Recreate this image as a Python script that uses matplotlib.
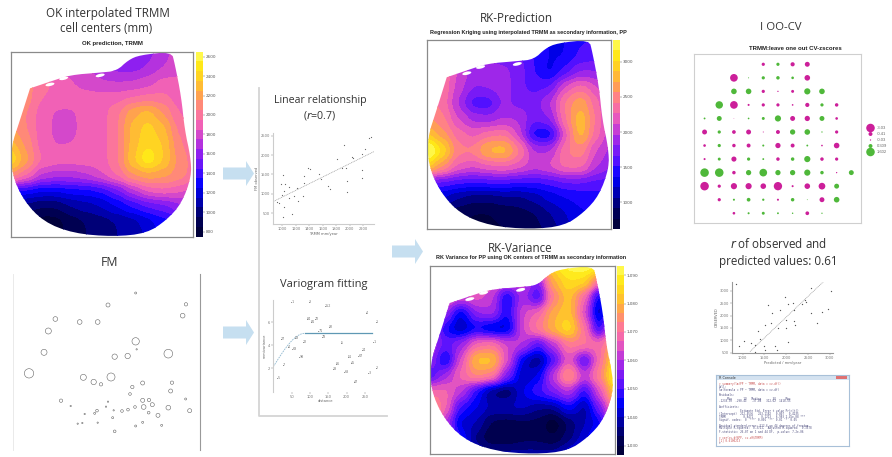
import numpy as np
import matplotlib
matplotlib.use("Agg")
import matplotlib.pyplot as plt
from matplotlib.colors import LinearSegmentedColormap
from matplotlib.patches import Polygon, Ellipse, FancyArrow, Rectangle

W, H = 892, 457
TITLE_FONT = "Open Sans"
SMALL_FONT = "Liberation Sans"

# ---------------- data ----------------
outline_u = [.106,.215,.325,.489,.580,.644,.708,.881,.898,.934,.953,.985,.99,.936,.854,.745,.562,.343,.179,.069,.005,.002,.051,.106]
outline_v = [.802,.838,.874,.887,.896,.955,.982,1.0,.937,.757,.577,.432,.324,.180,.090,.018,.0,.018,.081,.198,.342,.486,.631,.802]
holes_u = [.215, .29, .49]
holes_v = [.823, .856, .872]

grid_u = [0,.08,.17,.25,.33,.42,.5,.58,.67,.75,.83,.92,1]
grid_v = [1,.92,.83,.75,.67,.58,.5,.42,.33,.25,.17,.08,0]

ok_field = [
 [1900,1900,1850,1800,1750,1700,1650,1600,1550,1600,1700,1800,1800],
 [2000,2000,1950,1850,1800,1750,1700,1600,1600,1650,1750,1800,1800],
 [2100,2100,2000,1920,1850,1800,1750,1750,1750,1800,1880,1880,1850],
 [2150,2100,1950,1900,1900,1900,1900,1900,1950,1980,1980,1900,1850],
 [2150,2050,1900,1830,1830,1900,1900,2030,2220,2320,2150,1950,1900],
 [2180,2050,1900,1820,1820,1900,1900,2030,2280,2400,2280,2030,1900],
 [2300,2120,1900,1840,1850,1900,1900,2030,2280,2450,2350,2080,1950],
 [2480,2180,1950,1900,1900,1900,1900,2030,2320,2560,2350,2120,2000],
 [2150,1980,1750,1700,1700,1750,1850,1980,2150,2220,2180,2120,2000],
 [1350,1300,1250,1250,1300,1300,1350,1500,1700,1880,1930,1880,1800],
 [1050,1000, 950, 950,1050,1100,1150,1250,1350,1450,1500,1600,1700],
 [1000, 850, 800, 800, 900, 950,1000,1050,1100,1200,1300,1400,1450],
 [ 950, 850, 800, 800, 900, 950,1000,1050,1100,1150,1300,1350,1400]]

rk_field = [
 [2200,2100,1900,1800,1750,1700,1600,1500,1350,1350,1500,1500,1500],
 [2300,2200,2000,1850,1800,1750,1700,1500,1350,1350,1550,1600,1600],
 [2450,2400,2100,1900,1850,1850,1750,1500,1300,1550,1800,1800,1700],
 [2450,2400,2050,1800,1850,1900,1700,1600,1650,2150,2350,2150,1800],
 [2500,2350,1950,1550,1550,1850,1750,1750,1950,2450,2700,2350,1900],
 [2600,2450,2100,1900,1850,1950,1950,1700,1800,2400,2850,2400,1950],
 [2850,2600,2350,2200,2350,2400,2050,1350,1300,2150,2850,2350,1950],
 [3500,3000,2450,2450,2800,2850,2450,1950,1950,2400,2500,2100,1900],
 [3000,2600,2250,2150,2250,2300,2200,2050,2150,2350,2350,2000,1800],
 [1600,1600,1550,1500,1550,1550,1500,1500,1550,1650,1650,1600,1600],
 [1400,1200,1050, 950, 950,1000,1000,1100,1250,1350,1400,1450,1450],
 [1150, 950, 800, 750, 750, 800, 850, 900,1050,1200,1350,1400,1400],
 [1050, 900, 750, 750, 750, 750, 800, 850, 950,1150,1250,1350,1350]]

var_field = [
 [62,62,62,62,62,62,65,70,90,98,100,100,100],
 [65,65,62,62,60,55,55,40,78,90,88,60,70],
 [66,62,55,58,52,25,50,30,68,85,62,22,60],
 [62,45,22,45,50,28,55,62,78,85,55,15,62],
 [58,28,18,28,20,20,55,68,80,92,65,28,72],
 [52,38,45,62,65,55,52,35,50,68,68,62,80],
 [50,22,55,85,85,58,22,12,32,60,30,62,92],
 [32,48,62,72,68,42,18,25,52,78,52,68,98],
 [62,62,52,30,12, 8,25,35,42,52,30,55,88],
 [78,62,32,25,20,22,22,15,15,30,15,40,72],
 [82,48,22,20, 8, 6, 8, 8, 0,10,20,25,62],
 [78,55,30,12, 5, 5, 8, 8, 5,12,22,35,58],
 [75,60,38,22,18,18,18,18,18,25,38,48,58]]

ok_ticks = [800,1000,1200,1400,1600,1800,2000,2200,2400,2600]
rk_ticks = [1000,1500,2000,2500,3000]
var_ticks = [5,20,35,50,65,80,95]
var_labels = ["1,030","1,040","1,050","1,060","1,070","1,080","1,090"]

fm_x = [407,324,558,548,166,239,293,145,407,410,132,344,383,505,87,250,333,281,303,428,516,397,512,390,183,324,428,447,557,457,212,318,405,431,505,341,366,384,291,284,254,446,569,474,338,293,233,247,428,485,407,344]
fm_y = [129,165,163,197,207,216,216,243,274,298,307,320,318,311,370,382,381,396,403,399,398,411,423,432,452,455,451,450,447,464,468,470,471,471,473,481,483,479,482,490,492,488,482,496,503,518,521,519,517,526,528,544]
fm_r = [3,6,5,7,7,7,7,9,11,2,9,8,8,13,14,9,12,8,5,6,5,5,6,4,5,2,6,5,3,6,2,2,4,7,7,2,4,4,4,3,2,4,6,6,3,2,2,2,3,3,3,4]

lin_x = [926,956,990,1025,1015,980,1040,1099,1030,1099,1168,1015,1138,1212,1227,1301,1316,1326,1375,1410,1548,1573,1672,1706,1815,1919,1889,1944,2028,2052,1963,1958,2176,2225,2186,2181,2284,2314]
lin_y = [783,757,972,672,1487,1255,1255,1186,1083,886,946,414,483,1143,826,946,1272,1461,1675,1650,1512,1392,1204,1118,1890,2259,1658,1658,1941,1916,1332,1058,2027,2156,1615,1418,2430,2456]
lin_xticks = [1000,1200,1400,1600,1800,2000,2200]
lin_yticks = [500,1000,1500,2000,2500]

vg_d = [49,98,141,253,279,91,114,103,152,123,132,21,59,80,184,273,39,52,241,71,203,232,170,212,27,280,162,194,259,11,221]
vg_g = [7.81,7.78,7.43,6.85,6.06,6.32,6.32,6.0,5.56,5.21,4.69,4.54,4.63,4.31,4.16,4.31,3.87,3.66,3.58,2.96,2.96,3.08,2.35,2.47,2.29,2.0,1.94,1.62,1.53,1.15,.77]
vg_n = [1,3,152,4,1,84,72,81,92,71,78,27,53,12,5,1,4,63,14,98,51,67,86,45,7,2,33,68,3,5,47]
vg_nugget, vg_sill, vg_range = 2.12, 5.04, 86
vg_xticks = [50,100,150,200,250]
vg_yticks = [2,4,6]

cv_rows = [
 [0,0,0,0,-.3,.3,-.5,-.7,0,0,0],
 [0,0,-1.7,.03,.3,.35,.2,-.9,0,0,0],
 [0,0,.9,.9,-.3,-.05,-.25,1.1,.9,0,0],
 [0,1.6,-1.7,-.12,-.3,-.3,-.08,-.5,.3,-.35,0],
 [.1,.7,-.01,.08,.25,1.1,-.7,-.8,.7,-.2,0],
 [-.7,.3,-.4,-.7,-.03,-.45,.8,.9,.05,-.3,0],
 [-.2,.3,-.35,-.45,.12,-.8,-.45,.1,-.08,-.9,0],
 [-.12,.25,-.75,.3,.1,-.35,.35,1.1,-.35,-.3,0],
 [2.1,2.1,-.35,.8,1.7,.8,.8,1.1,.35,-.05,.7],
 [-2.1,-.3,-1.1,-1.1,-.9,-2.0,-.12,-.9,-1.3,.7,0],
 [0,-.3,.12,.4,.15,-.12,.35,.02,-.7,.9,0],
 [0,0,-.2,.12,.25,.1,.06,-.4,.05,0,0]]
cv_leg_vals = [-2.1,-.45,-.05,.45,2.1]
cv_leg_labels = ["-3.03","-0.41","-0.03","0.309","1.602"]

obs_x = [839,924,1031,1184,1283,1283,1344,1398,1490,1505,1513,1589,1650,1666,1734,1796,1819,1857,1972,1995,1995,2033,2033,2148,2178,2178,2201,2362,2431,2454,2561,2561,2714,2813,2958,3020]
obs_y = [3268,770,986,905,811,541,1378,1040,784,608,1621,2431,1688,2093,784,608,1486,2228,2768,1823,1486,2458,919,2498,2228,1783,1621,2458,2633,2566,2107,3106,1688,2161,2255,2998]
obs_slope, obs_icept = 1.68, -1421
obs_xticks = [1000,1500,2000,2500,3000]
obs_yticks = [500,1000,1500,2000,2500,3000]

console_lines = [
 ("> summary(lm(PP ~ TRMM, data = cv.df))", "#c85050"),
 ("Call:", "#505080"),
 ("lm(formula = PP ~ TRMM, data = cv.df)", "#505080"),
 ("", "k"),
 ("Residuals:", "#505080"),
 ("     Min       1Q   Median       3Q      Max", "#505080"),
 ("-1238.30  -290.41   -37.08   312.62  1418.55", "#505080"),
 ("", "k"),
 ("Coefficients:", "#505080"),
 ("             Estimate Std. Error t value Pr(>|t|)", "#505080"),
 ("(Intercept)  212.4536   263.1182   0.807   0.4235", "#505080"),
 ("TRMM           0.8471     0.1213   6.983 2.45e-08 ***", "#505080"),
 ("Signif. codes:  0 '***' 0.001 '**' 0.01 '*' 0.05", "#505080"),
 ("", "k"),
 ("Residual standard error: 512.6 on 44 degrees of freedom", "#505080"),
 ("Multiple R-squared:  0.3721,  Adjusted R-squared:  0.3578", "#505080"),
 ("F-statistic: 26.07 on 1 and 44 DF,  p-value: 7.2e-06", "#505080"),
 ("", "k"),
 ("> cor(cv.df\\$PP, cv.df\\$TRMM)", "#c85050"),
 ("[1] 0.6100213", "#c85050"),
 (">", "#505080"),
]

# ---------------- helpers ----------------
cmap = LinearSegmentedColormap.from_list("pp", [
    (0, "#000030"), (.10, "#00005a"), (.18, "#0000a8"), (.28, "#0000ff"),
    (.36, "#5010ff"), (.45, "#9020f0"), (.52, "#c038d8"), (.60, "#f060b8"),
    (.68, "#ff7c90"), (.76, "#ffa050"), (.84, "#ffc828"), (.92, "#ffe818"),
    (1, "#ffff60")])

fig = plt.figure(figsize=(W / 100, H / 100), dpi=100, facecolor="white")

def px_axes(x0, y0, x1, y1, **kw):
    return fig.add_axes([x0 / W, 1 - y1 / H, (x1 - x0) / W, (y1 - y0) / H], **kw)

def ftext(x, y, s, size=8.4, **kw):
    kw.setdefault("family", TITLE_FONT)
    kw.setdefault("color", "#333333")
    kw.setdefault("ha", "center")
    kw.setdefault("va", "center")
    fig.text(x / W, 1 - y / H, s, fontsize=size, **kw)

def small_title(x, y, s, size=4.3):
    ftext(x, y, s, size=size, family=SMALL_FONT, weight="bold", color="#222222")

def chaikin(u, v, n=2):
    p = np.column_stack([u, v])
    for _ in range(n):
        q = np.roll(p, -1, axis=0)
        p = np.column_stack([.75 * p + .25 * q, .25 * p + .75 * q]).reshape(-1, 2)
    return p

def smooth_basis(eval_pts, ctrl, s=.04):
    B = np.exp(-(eval_pts[:, None] - np.asarray(ctrl)[None, :]) ** 2 / (2 * s ** 2))
    return B / B.sum(axis=1, keepdims=True)

def draw_map(box, cbox, field, levels, ticks, ticklabels=None):
    ax = px_axes(*box)
    xs = np.linspace(0, 1, 300)
    Bu, Bv = smooth_basis(xs, grid_u), smooth_basis(xs, grid_v)
    Z = Bv @ np.asarray(field, float) @ Bu.T
    Z = np.clip(Z, levels[0] + 1e-6, levels[-1] - 1e-6)
    cs = ax.contourf(xs, xs, Z, levels=levels, cmap=cmap, antialiased=False)
    clip = Polygon(chaikin(outline_u, outline_v), closed=True,
                   transform=ax.transData, fc="none", ec="none")
    ax.add_patch(clip)
    cs.set_clip_path(clip)
    for hu, hv in zip(holes_u, holes_v):
        ax.add_patch(Ellipse((hu, hv), .05, .017, angle=12, fc="white", ec="none", zorder=5))
    ax.set_xlim(0, 1)
    ax.set_ylim(0, 1)
    ax.set_xticks([])
    ax.set_yticks([])
    for s in ax.spines.values():
        s.set_color("#8a8a8a")
        s.set_linewidth(.9)
    cax = px_axes(*cbox)
    cb = fig.colorbar(cs, cax=cax, drawedges=False)
    cb.set_ticks(ticks)
    if ticklabels:
        cb.set_ticklabels(ticklabels)
    cb.ax.tick_params(labelsize=3, length=1.2, width=.3, pad=1, colors="#555555")
    cb.outline.set_visible(False)
    return ax

def light_axes(ax, xticks, yticks, size=2.6):
    ax.set_facecolor("white")
    ax.set_xticks(xticks)
    ax.set_yticks(yticks)
    ax.tick_params(labelsize=size, length=1.2, width=.3, pad=1, colors="#777777")
    ax.spines["top"].set_visible(False)
    ax.spines["right"].set_visible(False)
    ax.spines["left"].set_color("#cccccc")
    ax.spines["bottom"].set_color("#cccccc")
    ax.spines["left"].set_linewidth(.8)
    ax.spines["bottom"].set_linewidth(.8)

# ---------------- overlay: frame and arrows ----------------
ov = px_axes(0, 0, W, H)
ov.set_xlim(0, W)
ov.set_ylim(H, 0)
ov.axis("off")
ov.plot([258.7, 258.7, 386.7], [88, 416, 416], color="#d4d4d4", lw=1.3)
for ax0, ay in [(223, 173.5), (223, 332.5), (392, 251.5)]:
    ov.add_patch(FancyArrow(ax0, ay, 31, 0, width=12, head_width=25, head_length=8,
                            length_includes_head=True, fc="#c6dff0", ec="none"))

# ---------------- titles ----------------
ftext(108, 14, "OK interpolated TRMM", 8.4)
ftext(106, 29, "cell centers (mm)", 8.3)
small_title(112, 43.5, "OK prediction, TRMM")
ftext(110, 262, "FM", 8.8)
ftext(320, 100, "Linear relationship", 7.7)
ftext(320, 115, "($\\mathit{r}$=0.7)", 7.7)
ftext(324, 285, "Variogram fitting", 8.0)
ftext(516, 18, "RK-Prediction", 8.4)
small_title(528, 32.5, "Regression Kriging using interpolated TRMM as secondary information, PP", 4.0)
ftext(520, 248, "RK-Variance", 8.4)
small_title(531, 257.5, "RK Variance for PP using OK centers of TRMM as secondary information", 4.0)
ftext(781, 27, "I OO-CV", 8.2)
small_title(795, 48, "TRMM:leave one out CV-zscores", 4.3)
ftext(778, 244, "$\\mathit{r}$ of observed and", 8.4)
ftext(778, 262, "predicted values: 0.61", 8.4)

# ---------------- maps ----------------
draw_map((10.7, 51.7, 193.3, 236.7), (195.7, 51.7, 202.7, 236.7), ok_field,
         np.arange(750, 2651, 100), ok_ticks)
draw_map((427.3, 39.7, 611, 229.3), (612.7, 39.7, 619.5, 229.3), rk_field,
         np.arange(615, 3461, 150), rk_ticks)
draw_map((430, 265.7, 615, 454.3), (617.3, 265.7, 624, 455), var_field,
         np.arange(0, 101, 5), var_ticks, var_labels)

# ---------------- FM ----------------
fm = px_axes(12.7, 274, 200.3, 450)
fm.scatter(fm_x, fm_y, s=(.48 * np.array(fm_r)) ** 2, facecolors="none",
           edgecolors="#666666", linewidths=.4)
fm.set_xlim(38, 601)
fm.set_ylim(600, 72)
fm.set_xticks([])
fm.set_yticks([])
fm.spines["top"].set_visible(False)
fm.spines["bottom"].set_visible(False)
fm.spines["left"].set_color("#e6e6e6")
fm.spines["left"].set_linewidth(.6)
fm.spines["right"].set_color("#999999")
fm.spines["right"].set_linewidth(.8)

# ---------------- linear relationship ----------------
la = px_axes(273.3, 133.3, 374.3, 224)
la.scatter(lin_x, lin_y, s=.8, color="#666666", linewidths=0)
fit = np.polyfit(lin_x, lin_y, 1)
xl = np.array([867, 2363])
la.plot(xl, np.polyval(fit, xl), color="#999999", lw=.5, ls=(0, (1.5, 1)))
la.set_xlim(867, 2363)
la.set_ylim(225, 2559)
light_axes(la, lin_xticks, lin_yticks)
la.set_ylabel("FM observed", fontsize=2.6, labelpad=1, color="#666666")
la.set_xlabel("TRMM mm/year", fontsize=2.6, labelpad=.5, color="#666666")

# ---------------- variogram ----------------
va = px_axes(273.3, 300, 376.7, 391.7)
va.scatter(vg_d, vg_g, s=.4, color="#888888", linewidths=0)
for d, g, n in zip(vg_d, vg_g, vg_n):
    va.text(d, g, str(n), fontsize=2.4, color="#777777", ha="left", va="center")
d_ramp = np.arange(0, vg_range + 1)
g_ramp = vg_nugget + (vg_sill - vg_nugget) * (1.5 * d_ramp / vg_range - .5 * (d_ramp / vg_range) ** 3)
va.plot(d_ramp, g_ramp, color="#8fb8d0", lw=.6, ls=(0, (2, 1)))
va.plot([vg_range, 268], [vg_sill, vg_sill], color="#5f98b4", lw=.9)
va.set_xlim(0, 282)
va.set_ylim(-.07, 7.96)
light_axes(va, vg_xticks, vg_yticks)
va.spines["bottom"].set_visible(False)
va.set_xlabel("distance", fontsize=2.6, labelpad=.5, color="#666666")
va.set_ylabel("semivariance", fontsize=2.6, labelpad=1, color="#666666")

# ---------------- LOO-CV ----------------
cv = px_axes(694.3, 54, 861, 223)
cv_arr = np.array(cv_rows)
rr, cc = np.nonzero(cv_arr)
vals = cv_arr[rr, cc]
cv.scatter(cc, rr, s=18 * np.abs(vals), c=np.where(vals < 0, "#cc1f9a", "#4fb83a"), linewidths=0)
cv.set_xlim(-.70, 10.66)
cv.set_ylim(11.72, -.76)
cv.set_xticks([])
cv.set_yticks([])
for s in cv.spines.values():
    s.set_color("#cfcfcf")
    s.set_linewidth(.8)
cl = px_axes(866, 125, 892, 155)
cl.axis("off")
cl.set_xlim(0, 26)
cl.set_ylim(4.5, -.5)
lv = np.array(cv_leg_vals)
cl.scatter([4.5] * 5, np.arange(5), s=18 * np.abs(lv),
           c=np.where(lv < 0, "#cc1f9a", "#4fb83a"), linewidths=0, clip_on=False)
for i, lab in enumerate(cv_leg_labels):
    cl.text(11, i, lab, fontsize=3, color="#666666", va="center", family=SMALL_FONT)

# ---------------- observed vs predicted ----------------
ob = px_axes(732.3, 281.7, 833.3, 353.3)
ob.scatter(obs_x, obs_y, s=.9, color="#555555", linewidths=0)
xo = np.array([1168, 2890])
ob.plot(xo, obs_slope * xo + obs_icept, color="#999999", lw=.5, ls=(0, (1.5, 1)))
ob.set_xlim(763, 3081)
ob.set_ylim(473, 3375)
light_axes(ob, obs_xticks, obs_yticks)
ob.spines["left"].set_color("#999999")
ob.spines["bottom"].set_color("#999999")
ob.set_xlabel("Predicted / mm/year", fontsize=2.6, labelpad=.5, color="#666666")
ob.set_ylabel("OBSERVED", fontsize=2.6, labelpad=1, color="#666666")

# ---------------- console ----------------
co = px_axes(715.7, 375, 849, 445.7)
co.set_xlim(0, 133.3)
co.set_ylim(70.7, 0)
co.set_xticks([])
co.set_yticks([])
for s in co.spines.values():
    s.set_color("#a8c0d8")
    s.set_linewidth(.8)
co.add_patch(Rectangle((0, 0), 133.3, 5, fc="#d4e2f0", ec="none"))
co.add_patch(Rectangle((120, 0), 11, 3.5, fc="#e07070", ec="none"))
co.text(3, 2.6, "R Console", fontsize=2.4, color="#333333", va="center")
for i, (line, col) in enumerate(console_lines):
    if line:
        co.text(3, 8.5 + i * 3.0, line, fontsize=2.0, color=col, va="center", family="DejaVu Sans Mono")

fig.savefig("out.png", dpi=100)
